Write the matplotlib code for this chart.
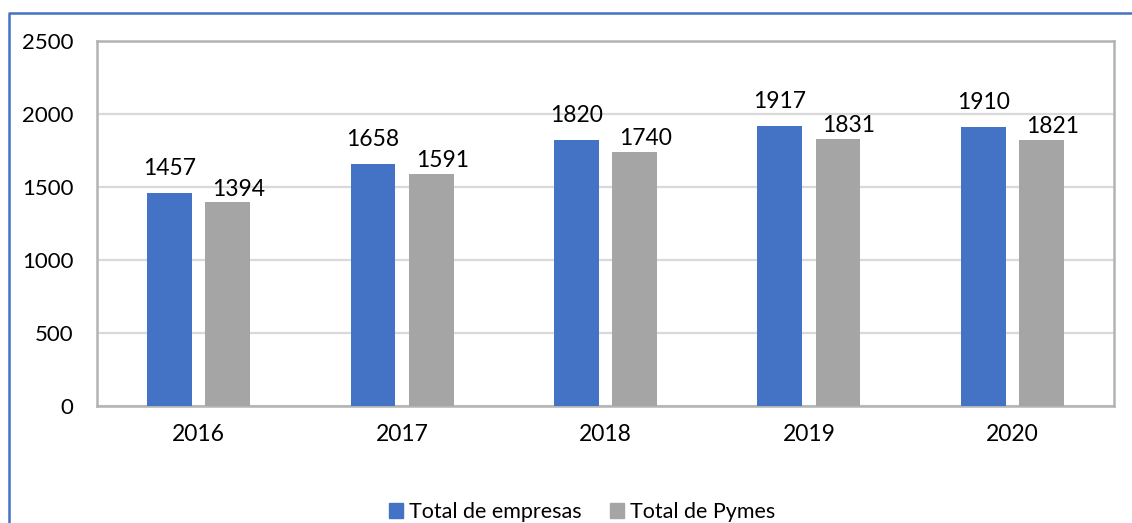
import matplotlib

matplotlib.use("Agg")
import matplotlib.pyplot as plt
from matplotlib.lines import Line2D
from matplotlib.patches import Patch
import numpy as np

BLUE, GREY = "#4472C4", "#A5A5A5"
FRAME, GRID = "#B3B3B3", "#D9D9D9"

years = ["2016", "2017", "2018", "2019", "2020"]
empresas = [1457, 1658, 1820, 1917, 1910]
pymes = [1394, 1591, 1740, 1831, 1821]

plt.rcParams["font.family"] = ["Lato", "DejaVu Sans"]
FS = 16.5

W, H = 1132, 523
fig = plt.figure(figsize=(W / 100, H / 100), dpi=100)
ax = fig.add_axes([97 / W, (H - 406) / H, 1017 / W, 365 / H])

x = np.arange(len(years))
ax.bar(x - 0.143, empresas, 0.22, color=BLUE, zorder=3)
ax.bar(x + 0.143, pymes, 0.22, color=GREY, zorder=3)

for xi, v in zip(x, empresas):
    ax.annotate(str(v), (xi - 0.143, v), xytext=(0, 13), textcoords="offset points",
                ha="center", va="baseline", fontsize=FS, color="black")
for xi, v in zip(x, pymes):
    ax.annotate(str(v), (xi + 0.143, v), xytext=(8, 5), textcoords="offset points",
                ha="center", va="baseline", fontsize=FS, color="black")

ax.set_xlim(-0.5, len(years) - 0.5)
ax.set_ylim(0, 2500)
ax.set_yticks(range(0, 2501, 500))
ax.set_xticks(x)
ax.set_xticklabels(years)
ax.tick_params(length=0, labelsize=FS)
ax.tick_params(axis="y", pad=17, labelsize=16)
ax.tick_params(axis="x", pad=13)
ax.yaxis.grid(True, color=GRID, lw=1.6, zorder=0)
ax.set_axisbelow(True)
for s in ax.spines.values():
    s.set_color(FRAME)
    s.set_linewidth(1.8)

fig.legend(handles=[Patch(color=BLUE, label="Total de empresas"),
                    Patch(color=GREY, label="Total de Pymes")],
           loc="center", bbox_to_anchor=(582 / W, 1 - 512 / H), ncol=2,
           frameon=False, fontsize=15.5, handlelength=0.65, handleheight=0.65,
           handletextpad=0.3, columnspacing=1.3)

# blue outer border (left and top edges only)
fig.add_artist(Line2D([8.5 / W, 8.5 / W, 1], [0, 1 - 13 / H, 1 - 13 / H],
                      transform=fig.transFigure, color=BLUE, lw=1.8))

fig.savefig("out.png", dpi=100, facecolor="white")
